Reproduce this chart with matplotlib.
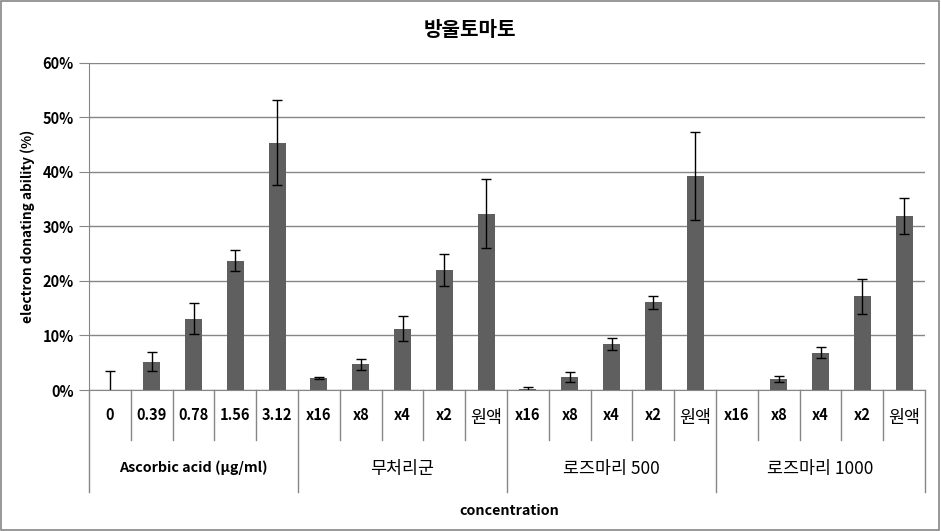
import matplotlib
matplotlib.use('Agg')
import matplotlib.pyplot as plt
import matplotlib.transforms as mtransforms
from matplotlib.patches import Rectangle
from matplotlib.ticker import PercentFormatter

plt.rcParams['font.family'] = ['Noto Sans CJK KR', 'DejaVu Sans']

title = '방울토마토'
groups = ['Ascorbic acid (μg/ml)', '무처리군', '로즈마리 500', '로즈마리 1000']
groupLabels = [
    ['0', '0.39', '0.78', '1.56', '3.12'],
    ['x16', 'x8', 'x4', 'x2', '원액'],
    ['x16', 'x8', 'x4', 'x2', '원액'],
    ['x16', 'x8', 'x4', 'x2', '원액'],
]
# values in fraction (0.1 = 10%)
ascorbicVal = [0.0, 0.052, 0.131, 0.237, 0.453]
ascorbicErr = [0.034, 0.017, 0.029, 0.019, 0.078]
controlVal = [0.022, 0.047, 0.112, 0.220, 0.323]
controlErr = [0.001, 0.010, 0.023, 0.029, 0.063]
rose500Val = [0.001, 0.024, 0.084, 0.161, 0.392]
rose500Err = [0.004, 0.009, 0.011, 0.012, 0.081]
rose1000Val = [0.0, 0.020, 0.068, 0.172, 0.319]
rose1000Err = [0.0, 0.006, 0.010, 0.032, 0.033]

values = ascorbicVal + controlVal + rose500Val + rose1000Val
errors = ascorbicErr + controlErr + rose500Err + rose1000Err
labels = [l for g in groupLabels for l in g]
x = list(range(len(values)))

fig = plt.figure(figsize=(9.41, 5.31), dpi=100)
ax = fig.add_axes([0.0946, 0.2655, 0.8884, 0.6165])

ax.bar(x, values, width=0.41, color='#5f5f5f', zorder=3)
errX = [i for i in x if errors[i] > 0]
ax.errorbar(errX, [values[i] for i in errX], yerr=[errors[i] for i in errX],
            fmt='none', ecolor='black', elinewidth=1, capsize=3.5, capthick=1, zorder=4)

ax.set_xlim(-0.5, len(values) - 0.5)
ax.set_ylim(0, 0.6)
ax.set_yticks([0, 0.1, 0.2, 0.3, 0.4, 0.5, 0.6])
ax.yaxis.set_major_formatter(PercentFormatter(1.0, decimals=0))
ax.grid(axis='y', color='#868686', linewidth=1, zorder=0)
for s in ['top', 'right']:
    ax.spines[s].set_visible(False)
ax.spines['left'].set_color('#868686')
ax.spines['bottom'].set_color('#868686')
ax.tick_params(axis='y', direction='out', length=7, color='#868686', labelsize=10.5, pad=4)
for t in ax.get_yticklabels():
    t.set_fontweight('bold')
ax.set_xticks([])

# multi-level category axis
axH = ax.get_position().height * 531
trans = mtransforms.blended_transform_factory(ax.transData, ax.transAxes)
shortLen = 50 / axH
longLen = 102 / axH
for i in range(len(values) + 1):
    b = i - 0.5
    ln = longLen if i % 5 == 0 else shortLen
    ax.plot([b, b], [0, -ln], transform=trans, color='#868686', linewidth=1, clip_on=False)

for i, l in enumerate(labels):
    if l == '원액':
        ax.text(i, -28 / axH, l, transform=trans, ha='center', va='center', fontsize=12.5)
    else:
        ax.text(i, -25 / axH, l, transform=trans, ha='center', va='center',
                fontsize=10.5, fontweight='bold')

for g, name in enumerate(groups):
    cx = g * 5 + 2
    if g == 0:
        ax.text(cx, -78 / axH, name, transform=trans, ha='center', va='center',
                fontsize=10.3, fontweight='bold')
    else:
        ax.text(cx, -79 / axH, name, transform=trans, ha='center', va='center', fontsize=12.5)

fig.text(0.5417, 1 - 511 / 531, 'concentration', ha='center', va='center',
         fontsize=10.3, fontweight='bold')
fig.text(28 / 941, 1 - 226 / 531, 'electron donating ability (%)', rotation=90,
         ha='center', va='center', fontsize=9.8, fontweight='bold')
fig.text(470 / 941, 1 - 30 / 531, title, ha='center', va='center',
         fontsize=14.5, fontweight='bold')

fig.patches.append(Rectangle((0.001, 0.002), 0.997, 0.996, transform=fig.transFigure,
                             fill=False, edgecolor='#868686', linewidth=1.2))

fig.savefig('out.png', dpi=100)
